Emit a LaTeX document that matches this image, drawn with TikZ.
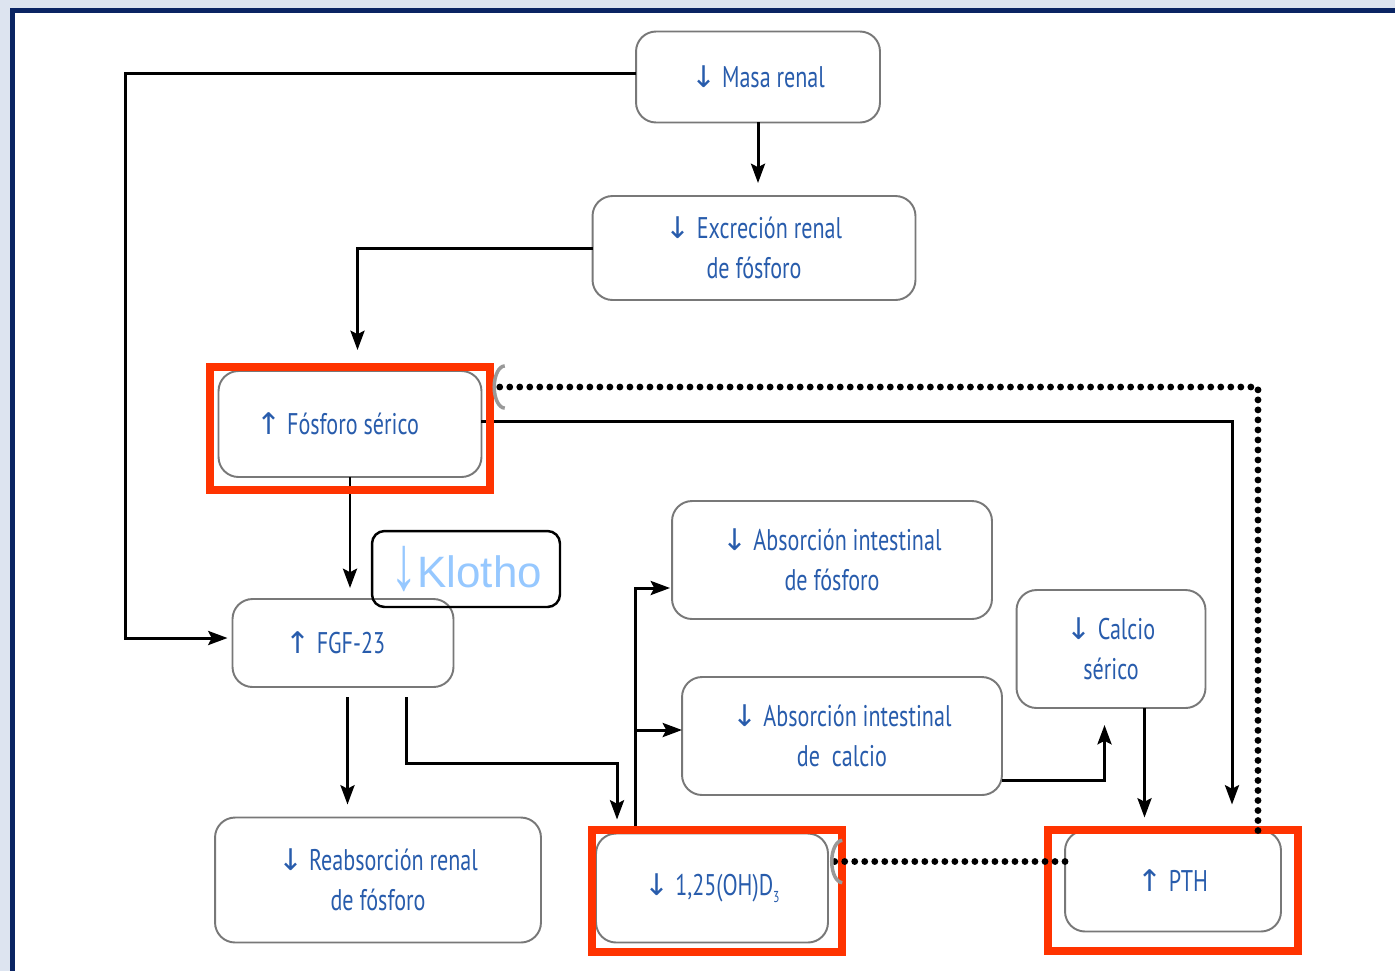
\documentclass[tikz,border=0pt]{standalone}
\usepackage{fontspec}
\setmainfont[FakeStretch=0.74]{PT Sans}
\newfontfamily\klothofont{Liberation Sans}
\newfontfamily\arrowfont{DejaVu Sans}
\usetikzlibrary{arrows.meta, positioning}

\definecolor{txtblue}{RGB}{40,92,172}
\definecolor{klothoblue}{RGB}{150,200,255}
\definecolor{boxgray}{RGB}{120,120,120}
\definecolor{hlred}{RGB}{255,51,0}
\definecolor{frameblue}{RGB}{10,36,99}
\definecolor{pagebg}{RGB}{221,228,240}

\newcommand{\baja}{{\arrowfont ↓}}
\newcommand{\sube}{{\arrowfont ↑}}

\begin{document}
\begin{tikzpicture}[x=0.02cm, y=-0.02cm,
    caja/.style={draw=boxgray, line width=1.1pt, rounded corners=0.4cm, align=center,
      text=txtblue, font=\fontsize{17}{23}\selectfont, inner sep=0pt, outer sep=0pt},
    flecha/.style={line width=1.7pt, -{Stealth[length=11pt, width=8pt, inset=2pt]}},
    inhibe/.style={line width=3.9pt, line cap=round, dash pattern=on 0pt off 5.7pt,
      -{Arc Barb[gray!80, line width=2pt, length=7pt, width=26pt]}},
    marco/.style={draw=hlred, line width=4.5pt}]

    % fondo y marco
    \useasboundingbox (0,0) rectangle (1395,971);
    \fill[pagebg] (0,0) rectangle (1395,971);
    \fill[frameblue] (10,8) rectangle (1395,971);
    \fill[white] (15,13) rectangle (1395,971);

    \node [caja, minimum width=4.88cm, minimum height=1.82cm] (masa) at (758 , 77) {\baja\ Masa renal};
    \node [caja, minimum width=6.46cm, minimum height=2.08cm] (excr) at (754 , 248) {\baja\ Excreción renal\\de fósforo};
    \node [caja, minimum width=5.26cm, minimum height=2.12cm] (fosf) at (350 , 424) {\sube\ Fósforo sérico\hspace*{0.5cm}};
    \node [caja, minimum width=4.42cm, minimum height=1.76cm] (fgf) at (343 , 643) {\sube\ FGF-23\hspace*{0.3cm}};
    \node [caja, minimum width=6.40cm, minimum height=2.36cm] (absf) at (832 , 560) {\baja\ Absorción intestinal\\de fósforo};
    \node [caja, minimum width=6.40cm, minimum height=2.36cm] (absc) at (842 , 736) {\baja\ Absorción intestinal\\de\ \ calcio};
    \node [caja, minimum width=3.78cm, minimum height=2.36cm] (calc) at (1111 , 649) {\baja\ Calcio\\sérico};
    \node [caja, minimum width=6.52cm, minimum height=2.50cm] (reab) at (378 , 880) {\baja\ Reabsorción renal\\de fósforo};
    \node [caja, minimum width=4.64cm, minimum height=2.18cm] (vitd) at (712 , 888) {\baja\ 1,25(OH)D\raisebox{-0.45ex}{\fontsize{9}{9}\selectfont 3}};
    \node [caja, minimum width=4.32cm, minimum height=2.02cm] (pth) at (1173 , 881) {\sube\ PTH};
    \node [draw, line width=1.4pt, rounded corners=0.25cm, minimum width=3.76cm, minimum height=1.52cm,
      inner sep=0pt, text=klothoblue, font=\klothofont\fontsize{25}{30}\selectfont] (klotho) at (466 , 569)
      {\raisebox{-0.1ex}{\scalebox{1.25}[1.75]{↓}}Klotho};

    % conexiones
    \draw[flecha, shorten >=0.1cm] ([yshift=0.08cm]masa.west) -- ++(-511,0) |- ([yshift=0.1cm]fgf.west);
    \draw[flecha, shorten >=0.26cm] (masa.south) -- (masa.south |- excr.north);
    \draw[flecha, shorten >=0.42cm] (excr.west) -| ([xshift=0.15cm]fosf.north);
    \draw[flecha, shorten >=0.22cm] (fosf.south) -- (fosf.south |- fgf.north);
    \draw[flecha, shorten >=0.52cm] ([yshift=0.06cm]fosf.east) -| ([xshift=1.18cm]pth.north);
    \coordinate (f1) at ([xshift=0.09cm]fgf.south);
    \draw[flecha, shorten <=0.2cm, shorten >=0.26cm] (f1) -- (f1 |- reab.north);
    \coordinate (f2) at ([xshift=1.27cm]fgf.south);
    \draw[flecha, shorten <=0.2cm, shorten >=0.28cm] (f2) -- ++(0,76) -| ([xshift=-1.9cm]vitd.north);
    \coordinate (v1) at ([xshift=-1.54cm]vitd.north);
    \coordinate (af) at ([yshift=-0.56cm]absf.west);
    \coordinate (ac) at ([yshift=0.12cm]absc.west);
    \draw[flecha, shorten >=0.04cm] (v1) |- (af);
    \draw[flecha] (ac -| v1) -- (ac);
    \coordinate (c1) at ([yshift=-0.88cm]absc.east);
    \draw[flecha, shorten >=0.34cm] (c1) -| ([xshift=-0.13cm]calc.south);
    \coordinate (c2) at ([xshift=0.67cm]calc.south);
    \draw[flecha, shorten >=0.26cm] (c2) -- (c2 |- pth.north);

    % recuadros rojos
    \draw[marco] (210,367) rectangle (490,490);
    \draw[marco] (592,830) rectangle (842,952);
    \draw[marco] (1048,830) rectangle (1298,951);

    % inhibiciones
    \coordinate (p1) at ([xshift=1.7cm]pth.north);
    \coordinate (p2) at ([yshift=0.74cm]fosf.east);
    \draw[inhibe, shorten >=0.22cm] (p1) |- (p2);
    \coordinate (p3) at ([yshift=0.39cm]pth.west);
    \draw[inhibe, shorten >=0.04cm] (p3) -- (p3 -| vitd.east);
\end{tikzpicture}
\end{document}
